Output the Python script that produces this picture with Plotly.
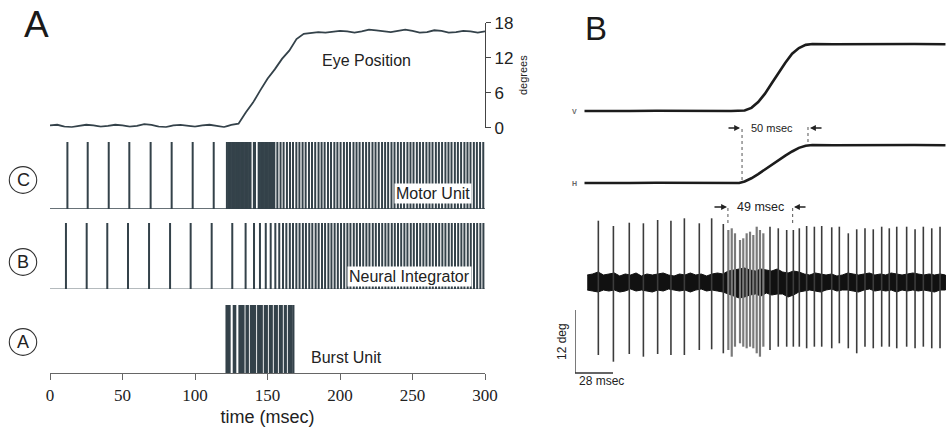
import plotly.graph_objects as go

W, H = 946, 430
SANS = "Liberation Sans"
SERIF = "Liberation Serif"
INK = "#34424a"

# ---------------- Panel A data ----------------
eye_t = [0, 5, 10, 15, 20, 25, 30, 35, 40, 45, 50, 55, 60, 65, 70, 75, 80, 85, 90, 95,
         100, 105, 110, 115, 120, 125, 130, 135, 140, 145, 150, 155, 160, 165, 170, 175,
         180, 185, 190, 195, 200, 205, 210, 215, 220, 225, 230, 235, 240, 245, 250, 255,
         260, 265, 270, 275, 280, 285, 290, 295, 300]
eye_deg = [0.4, 0.5, 0.2, 0.1, 0.3, 0.5, 0.4, 0.2, 0.3, 0.5, 0.4, 0.2, 0.3, 0.6, 0.5, 0.2,
           0.1, 0.4, 0.5, 0.3, 0.2, 0.4, 0.5, 0.3, 0.1, 0.5, 0.7, 2.6, 4.3, 6.4, 8.4, 10.0,
           11.8, 13.2, 15.2, 16.1, 16.3, 16.4, 16.3, 16.5, 16.6, 16.5, 16.3, 16.5, 16.8,
           16.7, 16.5, 16.4, 16.6, 16.8, 16.6, 16.3, 16.4, 16.7, 16.6, 16.3, 16.4, 16.6,
           16.5, 16.3, 16.5]

motor_spikes = [12.0, 26.0, 40.5, 54.7, 69.4, 83.9, 98.4, 112.9,
                122.0, 122.9, 123.8, 124.7, 125.6, 126.5, 127.4, 128.3, 129.2, 130.1, 131.0,
                131.9, 132.8, 133.7, 134.6, 135.5, 136.4, 137.3, 138.3, 140.6, 141.4, 143.9,
                144.8, 145.7, 146.6, 147.5, 148.4, 149.3, 150.2, 151.1, 152.0, 152.9, 153.8,
                154.7,
                156.8, 159.0, 161.1, 163.4, 165.5, 167.6, 169.9, 172.0, 174.2, 176.3, 178.6,
                180.7, 182.9, 185.2, 187.3, 189.4, 191.7, 193.8, 196.1, 198.2, 200.4, 202.7,
                204.8, 206.9, 209.3, 211.4, 213.5, 215.8, 218.0, 220.1, 222.4, 224.5, 226.7,
                229.0, 231.1, 233.2, 235.5, 237.6, 239.9, 242.0, 244.2, 246.5, 248.6, 250.7,
                253.0, 255.1, 257.3, 259.6, 261.7, 263.8, 266.1, 268.2, 270.4, 272.7, 274.8,
                276.9, 279.2, 281.3, 283.5, 285.8, 287.9, 290.0, 292.3, 294.4, 296.6, 298.8]

integrator_spikes = [11.0, 25.3, 39.5, 53.8, 68.3, 82.8, 97.0, 111.5, 125.7, 134.9, 140.7,
                     144.8, 148.8, 152.2, 155.4, 158.1, 160.7, 163.0, 165.4, 167.6, 169.9,
                     172.1, 174.4, 176.5, 178.8, 180.9, 183.2, 185.3, 187.6, 189.7, 192.0,
                     194.1, 196.3, 198.5, 200.7, 202.9, 205.1, 207.2, 209.5, 211.6, 213.8,
                     216.0, 218.2, 220.3, 222.6, 224.7, 226.9, 229.1, 231.3, 233.4, 235.7,
                     237.8, 240.0, 242.2, 244.4, 246.5, 248.8, 250.9, 253.1, 255.3, 257.5,
                     259.6, 261.9, 264.0, 266.2, 268.4, 270.6, 272.7, 275.0, 277.1, 279.3,
                     281.5, 283.7, 285.8, 288.1, 290.2, 292.4, 294.6, 296.8, 298.9]

burst_spikes = [121.8, 122.8, 123.8, 126.8, 127.7, 130.7, 131.6, 132.5, 133.4, 135.6, 136.4,
                138.6, 139.6, 140.5, 141.4, 143.6, 144.6, 145.5, 146.0, 148.2, 149.5, 151.7,
                152.9, 155.1, 156.4, 158.6, 159.8, 162.0, 162.6, 164.8, 166.3, 167.8]

time_ticks = [0, 50, 100, 150, 200, 250, 300]
deg_ticks = [0, 6, 12, 18]

# ---------------- Panel B data ----------------
v_t = [7, 20, 40, 60, 80, 100, 115, 125, 130, 135, 140, 145, 150, 155, 160, 165, 170, 175,
       190, 210, 230, 250, 273]
v_deg = [0, 0.05, 0, 0.05, 0, 0.05, 0, 0.1, 0.6, 1.7, 3.3, 5.3, 7.3, 9.2, 10.9, 12.0, 12.6,
         12.75, 12.7, 12.75, 12.7, 12.75, 12.7]
h_t = [7, 20, 40, 60, 80, 100, 115, 121, 125, 130, 135, 140, 145, 150, 155, 160, 165, 170,
       175, 190, 210, 230, 250, 273]
h_deg = [0, 0.05, 0, 0.05, 0, 0.05, 0, 0, 0.3, 0.9, 1.7, 2.6, 3.5, 4.4, 5.2, 6.0, 6.7, 7.1,
         7.25, 7.2, 7.25, 7.2, 7.25, 7.2]

env_t = [9, 13, 17, 21, 25, 29, 33, 37, 41, 45, 49, 53, 57, 61, 65, 69, 73, 77, 81, 85, 89,
         93, 97, 101, 105, 109, 113, 117, 121, 125, 129, 133, 137, 141, 145, 149, 153, 157,
         161, 165, 169, 173, 177, 181, 185, 189, 193, 197, 201, 205, 209, 213, 217, 221, 225,
         229, 233, 237, 241, 245, 249, 253, 257, 261, 265, 269, 273]
env_up = [7, 8, 10, 7, 8, 9, 6, 8, 7, 9, 6, 8, 7, 8, 9, 7, 6, 8, 7, 9, 7, 8, 6, 8, 9, 8, 11,
          12, 13, 14, 12, 11, 13, 12, 11, 13, 10, 9, 11, 10, 8, 7, 9, 8, 7, 8, 6, 7, 9, 8, 7,
          8, 9, 7, 8, 7, 9, 8, 7, 8, 9, 8, 7, 8, 7, 8, 7]
env_dn = [-8, -9, -10, -8, -9, -8, -10, -9, -7, -9, -8, -9, -10, -8, -9, -7, -8, -9, -8, -10,
          -8, -7, -9, -8, -9, -10, -12, -14, -16, -15, -13, -12, -14, -11, -13, -12, -12, -15,
          -13, -10, -9, -8, -9, -10, -8, -7, -9, -8, -8, -9, -10, -8, -7, -9, -8, -9, -8, -10,
          -8, -9, -8, -9, -8, -9, -10, -8, -8]

b_spike_t = [17.2, 28.3, 40.0, 50.4, 60.9, 70.7, 80.6, 91.6, 100.7, 109.3, 143.7, 149.8,
             156.0, 160.9, 165.3, 170.7, 176.4, 181.8, 189.2, 194.8, 201.4, 207.6, 213.7,
             219.8, 226.0, 231.6, 237.1, 244.4, 250.6, 256.7, 262.9, 269.0]
b_spike_top = [61.3, 56.0, 59.3, 58.7, 62.0, 61.3, 63.7, 58.7, 63.7, 58.0, 55.3, 53.7, 52.0,
               52.0, 53.7, 56.0, 55.3, 56.0, 54.7, 55.3, 48.7, 52.7, 53.7, 52.7, 55.3, 53.7,
               55.3, 55.3, 52.7, 55.3, 53.7, 55.3]
b_spike_bot = [-73.0, -79.7, -72.0, -74.7, -72.0, -73.0, -73.0, -68.0, -67.3, -71.3, -68.0,
               -64.7, -64.7, -64.7, -64.7, -66.3, -64.7, -64.7, -66.3, -61.3, -66.3, -71.3,
               -64.7, -66.3, -64.7, -64.7, -66.3, -64.7, -66.3, -64.7, -66.3, -66.3]
b_burst_t = [113.0, 115.5, 117.9, 121.6, 124.0, 126.5, 129.0, 131.4, 133.9, 136.3, 138.8]
b_burst_top = [52.0, 53.7, 48.7, 42.0, 43.7, 48.7, 50.3, 47.0, 55.3, 52.0, 48.7]
b_burst_bot = [-68.0, -74.7, -64.7, -61.3, -64.7, -66.3, -64.7, -66.3, -71.3, -74.7, -64.7]

# measured markers (ms on panel B time base)
eye_marks_t = [123.1, 171.7]      # H onset, V end
eye_marks_lo = [0.57, 7.81]
eye_marks_hi = [10.48, 10.86]
spk_marks_t = [112.7, 160.4]      # burst onset / end
spk_marks_lo = [59.0, 59.0]
spk_marks_hi = [75.0, 75.0]
scale_ms = 28
scale_len = 63


def fx(px):
    return px / W


def fy(py):
    return 1 - py / H


def spike_xy(times, lo, hi):
    xs, ys = [], []
    for i, t in enumerate(times):
        a = lo[i] if isinstance(lo, list) else lo
        b = hi[i] if isinstance(hi, list) else hi
        xs += [t, t, None]
        ys += [a, b, None]
    return xs, ys


fig = go.Figure()

# eye position
fig.add_trace(go.Scatter(x=eye_t, y=eye_deg, xaxis="x", yaxis="y4", mode="lines",
                         line=dict(color=INK, width=1.8), hoverinfo="skip"))
# motor unit (C)
xs, ys = spike_xy(motor_spikes, 0, 1)
fig.add_trace(go.Scatter(x=[0, 300], y=[0, 0], xaxis="x", yaxis="y2", mode="lines",
                         line=dict(color=INK, width=1.5), hoverinfo="skip"))
fig.add_trace(go.Scatter(x=xs, y=ys, xaxis="x", yaxis="y2", mode="lines",
                         line=dict(color=INK, width=2.0), hoverinfo="skip"))
# neural integrator (B)
xs, ys = spike_xy(integrator_spikes, 0, 1)
fig.add_trace(go.Scatter(x=[0, 300], y=[0, 0], xaxis="x", yaxis="y3", mode="lines",
                         line=dict(color="#6b767c", width=1.2), hoverinfo="skip"))
fig.add_trace(go.Scatter(x=xs, y=ys, xaxis="x", yaxis="y3", mode="lines",
                         line=dict(color=INK, width=2.0), hoverinfo="skip"))
# burst unit (A)
xs, ys = spike_xy(burst_spikes, 0, 1)
fig.add_trace(go.Scatter(x=xs, y=ys, xaxis="x", yaxis="y", mode="lines",
                         line=dict(color=INK, width=2.3), hoverinfo="skip"))

# ---- panel B ----
fig.add_trace(go.Scatter(x=v_t, y=v_deg, xaxis="x2", yaxis="y6", mode="lines",
                         line=dict(color="#1c1c1c", width=2.6), hoverinfo="skip"))
fig.add_trace(go.Scatter(x=h_t, y=h_deg, xaxis="x2", yaxis="y7", mode="lines",
                         line=dict(color="#1c1c1c", width=2.6), hoverinfo="skip"))
fig.add_trace(go.Scatter(x=env_t + env_t[::-1], y=env_up + env_dn[::-1], xaxis="x2",
                         yaxis="y8", mode="lines", fill="toself", fillcolor="#111111",
                         line=dict(color="#111111", width=1), hoverinfo="skip"))
xs, ys = spike_xy(b_burst_t, b_burst_bot, b_burst_top)
fig.add_trace(go.Scatter(x=xs, y=ys, xaxis="x2", yaxis="y8", mode="lines",
                         line=dict(color="#7a7a7a", width=2.2), hoverinfo="skip"))
xs, ys = spike_xy(b_spike_t, b_spike_bot, b_spike_top)
fig.add_trace(go.Scatter(x=xs, y=ys, xaxis="x2", yaxis="y8", mode="lines",
                         line=dict(color="#3c3c3c", width=1.6), hoverinfo="skip"))
# scale bar
fig.add_trace(go.Scatter(x=[0, 0, scale_ms], y=[-28, -28 - scale_len, -28 - scale_len],
                         xaxis="x2", yaxis="y8", mode="lines",
                         line=dict(color="#333333", width=1.3), hoverinfo="skip"))
# dotted marker lines
for i, t in enumerate(eye_marks_t):
    fig.add_trace(go.Scatter(x=[t, t], y=[eye_marks_lo[i], eye_marks_hi[i]], xaxis="x2",
                             yaxis="y7", mode="lines",
                             line=dict(color="#555555", width=1, dash="dot"),
                             hoverinfo="skip"))
for i, t in enumerate(spk_marks_t):
    fig.add_trace(go.Scatter(x=[t, t], y=[spk_marks_lo[i], spk_marks_hi[i]], xaxis="x2",
                             yaxis="y8", mode="lines",
                             line=dict(color="#555555", width=1, dash="dot"),
                             hoverinfo="skip"))

hidden = dict(visible=False, showgrid=False, zeroline=False, automargin=False)

fig.update_layout(
    width=W, height=H, margin=dict(l=0, r=0, t=0, b=0, autoexpand=False),
    paper_bgcolor="white", plot_bgcolor="rgba(0,0,0,0)", showlegend=False,
    xaxis=dict(domain=[fx(50), fx(485)], range=[0, 300], anchor="y", showgrid=False,
               zeroline=False, showline=True, linecolor="#666666", linewidth=1.2,
               automargin=False,
               ticks="outside", ticklen=6, tickcolor="#666666", tickwidth=1.2,
               tickvals=time_ticks, tickfont=dict(family=SERIF, size=17, color="#222"),
               title=dict(text="time (msec)", standoff=6,
                          font=dict(family=SANS, size=18, color="#222"))),
    yaxis=dict(domain=[fy(373), fy(305)], range=[0, 1], anchor="x", **hidden),
    yaxis2=dict(domain=[fy(209), fy(142)], range=[0, 1], anchor="x", **hidden),
    yaxis3=dict(domain=[fy(289), fy(223)], range=[0, 1], anchor="x", **hidden),
    yaxis4=dict(domain=[fy(127.7), fy(22.7)], range=[0, 18], anchor="x", side="right",
                showgrid=False, zeroline=False, showline=True, linecolor="#444",
                linewidth=1.2, ticks="outside", ticklen=5, tickcolor="#444",
                automargin=False,
                tickvals=deg_ticks, tickfont=dict(family=SANS, size=17, color="#222"),
                title=dict(text="degrees", standoff=6,
                           font=dict(family=SANS, size=11, color="#222"))),
    yaxis5=dict(overlaying="y4", range=[0, 18], anchor="x", side="right", showgrid=False,
                zeroline=False, showline=False, ticks="inside", ticklen=4,
                automargin=False,
                tickcolor="#444", tickvals=deg_ticks, showticklabels=False),
    xaxis2=dict(domain=[fx(575), 1], range=[0, 273.4], anchor="y8", **hidden),
    yaxis6=dict(domain=[fy(115), fy(35)], range=[-0.762, 14.476], anchor="x2", **hidden),
    yaxis7=dict(domain=[fy(200), fy(120)], range=[-3.238, 12.0], anchor="x2", **hidden),
    yaxis8=dict(domain=[fy(380), fy(200)], range=[-98, 82], anchor="x2", **hidden),
)

ann = []


def txt(text, px, py, size, **kw):
    d = dict(text=text, x=fx(px), y=fy(py), xref="paper", yref="paper", showarrow=False,
             xanchor="center", yanchor="middle",
             font=dict(family=SANS, size=size, color=kw.pop("color", "#222")))
    d.update(kw)
    ann.append(d)


txt("A", 36.5, 24, 37, color="#1a1a1a")
txt("B", 596, 28, 33, color="#1a1a1a")
txt("Eye Position", 366, 60, 16)
txt("Motor Unit", 432.5, 193, 16, bgcolor="white", borderpad=1)
txt("Neural Integrator", 409, 276, 16, bgcolor="white", borderpad=1)
txt("Burst Unit", 346, 357, 16)
for letter, cy in [("C", 180), ("B", 262), ("A", 342)]:
    txt(letter, 23, cy, 18)
txt("<b>V</b>", 574, 111, 7, color="#666")
txt("<b>H</b>", 574, 183, 7, color="#666")
txt("12 deg", 562, 342, 12, textangle=-90)
txt("28 msec", 601, 381, 12)

# panel B measured intervals
ann.append(dict(text="50 msec", x=145.2, y=10.48, xref="x2", yref="y7", showarrow=False,
                font=dict(family=SANS, size=11, color="#222")))
ann.append(dict(text="49 msec", x=136.5, y=75, xref="x2", yref="y8", showarrow=False,
                font=dict(family=SANS, size=12.5, color="#222")))
for (xt, yv, yr, axp) in [(121.6, 10.48, "y7", -13), (173.2, 10.48, "y7", 13),
                          (112.0, 75, "y8", -14), (161.4, 75, "y8", 13)]:
    ann.append(dict(text="", x=xt, y=yv, xref="x2", yref=yr, showarrow=True, ax=axp, ay=0,
                    arrowhead=2, arrowsize=0.9, arrowwidth=1.3, arrowcolor="#222"))

fig.update_layout(annotations=ann)

shapes = []
for cy in [180, 262, 342]:
    shapes.append(dict(type="circle", xref="paper", yref="paper", x0=fx(9.3), x1=fx(36.7),
                       y0=fy(cy + 13.4), y1=fy(cy - 13.4),
                       line=dict(color="#333", width=1.1)))
fig.update_layout(shapes=shapes)

fig.write_html("out.html", config={"displayModeBar": False},
               post_script="document.body.style.margin='0';"
                           "document.body.style.overflow='hidden';")
